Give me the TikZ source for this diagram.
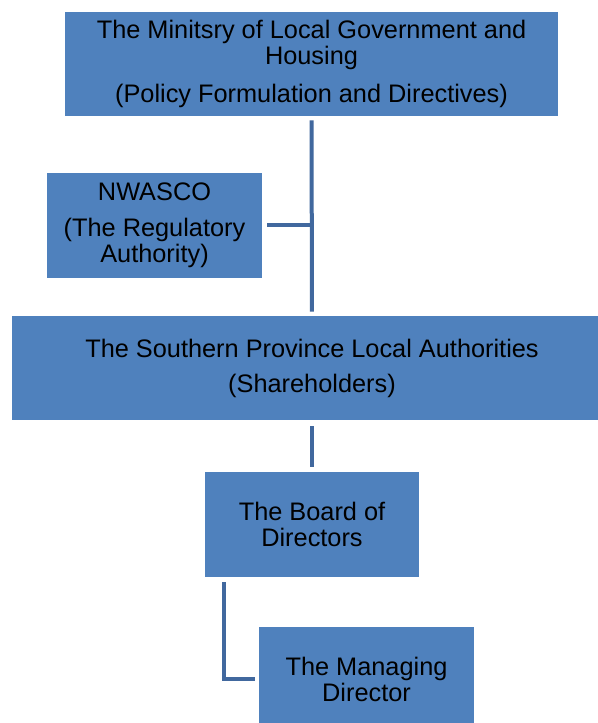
\documentclass[tikz,border=0pt]{standalone}
\usepackage{fontspec}
\setmainfont{Liberation Sans}
\definecolor{OrgBlue}{RGB}{79,129,189}
\definecolor{LinkBlue}{RGB}{65,104,158}
\usetikzlibrary{positioning,calc}

\begin{document}
\begin{tikzpicture}[x=0.75pt, y=-0.75pt,
    every node/.style={font=\fontsize{19}{19.5}\selectfont, align=center},
    unit/.style={fill=OrgBlue, inner sep=0pt, minimum height=78pt},
    link/.style={draw=LinkBlue, line width=3pt}
  ]
    \fill[white] (0,0) rectangle (598,723);
    \clip (0,0) rectangle (598,723);
    % boxes of the structure
    \node[unit, minimum width=369.75pt] (ministry) at (311.5,64)
      {The Minitsry of Local Government and\\Housing\\[9pt](Policy Formulation and Directives)};
    \node[unit, minimum width=161.25pt, minimum height=78.75pt] (nwasco) at (154.5,225.5)
      {NWASCO\\[7.5pt](The Regulatory\\Authority)};
    \node[unit, minimum width=450pt] (council) at (312,368)
      {The Southern Province Local Authorities\\[6.75pt](Shareholders)};
    \node[unit, minimum width=160.5pt, minimum height=78.75pt] (board) at (312,524.5)
      {The Board of\\Directors};
    \node[unit, minimum width=161.25pt] (md) at (366.5,679)
      {The Managing\\Director};
    % connectors
    \draw[link, shorten <=3pt, shorten >=3pt] (ministry.south) -- (council.north);
    \draw[link, shorten <=3.75pt] (nwasco.east) -- (ministry.south |- nwasco.east);
    \draw[link, shorten <=4.5pt, shorten >=3.75pt] (council.south) -- (board.north);
    \draw[link, shorten <=3.75pt, shorten >=3pt] ($(board.south west)+(19,0)$) |- (md.west);
\end{tikzpicture}
\end{document}
